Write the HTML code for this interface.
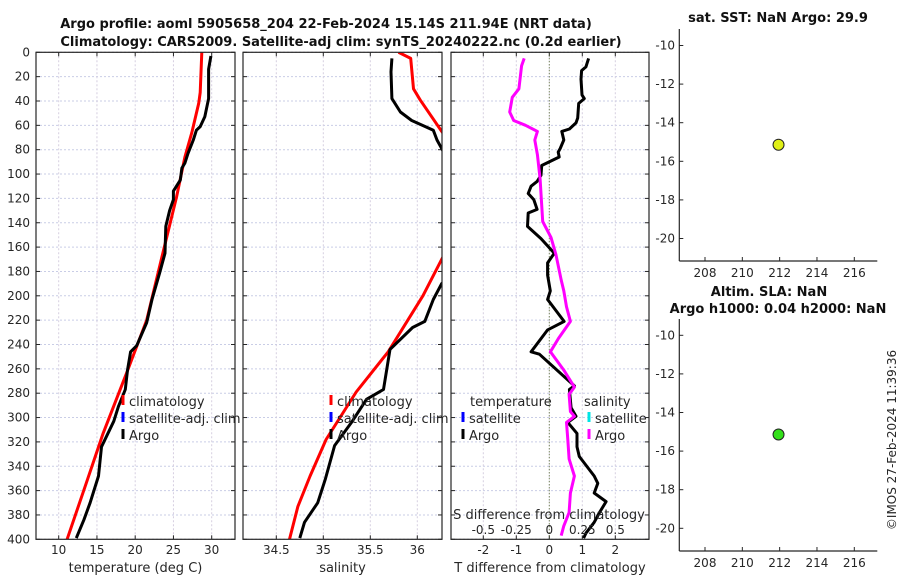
<!DOCTYPE html>
<html><head><meta charset="utf-8"><style>
html,body{margin:0;padding:0;background:#fff;}
svg{display:block;font-family:"DejaVu Sans","Liberation Sans",sans-serif;}
</style></head><body>
<svg id="fig" width="900" height="580" viewBox="0 0 900 580" xmlns="http://www.w3.org/2000/svg">
<rect width="900" height="580" fill="#fff"/>
<text x="326" y="28" text-anchor="middle" font-size="13" font-weight="bold" fill="#111">Argo profile: aoml 5905658_204 22-Feb-2024 15.14S 211.94E (NRT data)</text>
<text x="341" y="46" text-anchor="middle" font-size="13" font-weight="bold" fill="#111">Climatology: CARS2009. Satellite-adj clim: synTS_20240222.nc (0.2d earlier)</text>
<g id="layer"></g>
</svg>
<script>
// ---- data ----
const depthTicks=[0,20,40,60,80,100,120,140,160,180,200,220,240,260,280,300,320,340,360,380,400];
const tempTicks=[10,15,20,25,30];
const salTicks=[34.5,35,35.5,36];
const dTTicks=[-2,-1,0,1,2];
const dSTicks=[-0.5,-0.25,0,0.25,0.5];
const dSTickLabels=["-0.5","-0.25","0","0.25","0.5"];
const latTicks=[-10,-12,-14,-16,-18,-20];
const lonTicks=[208,210,212,214,216];

const argoTempDepth=[3,14,38,53,61,64,72,83,91,95,105,114,121,130,143,165,181,203,222,241,246,261,277,291,303,324,348,370,384,399];
const argoTemp=[29.9,29.6,29.6,29.1,28.5,28.0,27.6,26.9,26.5,26.1,25.9,25.0,25.0,24.5,24.0,23.9,23.2,22.2,21.5,20.2,19.4,19.0,18.7,17.8,17.2,15.6,15.2,14.1,13.3,12.3];
const climTempDepth=[0,33,42,66,86,119,160,220,263,313,354,400];
const climTemp=[28.7,28.5,28.3,27.4,26.5,25.4,23.8,21.5,18.9,15.8,13.6,11.1];

const argoSalDepth=[5,16,38,49,56,64,72,79,100,180,190,203,221,226,244,277,285,304,323,351,370,386,399];
const argoSal=[35.73,35.72,35.73,35.82,35.94,36.17,36.21,36.26,36.4,36.4,36.26,36.17,36.08,35.95,35.71,35.64,35.46,35.30,35.12,35.02,34.94,34.80,34.75];
const climSalDepth=[0,5,30,39,65,80,150,170,200,246,279,318,348,373,400];
const climSal=[35.80,35.93,35.96,36.03,36.26,36.4,36.4,36.26,36.06,35.69,35.35,35.03,34.86,34.73,34.64];

const dTDepth=[5,12,15,22,35,38,42,54,58,63,65,72,79,82,86,93,101,106,110,116,121,129,132,143,153,165,173,183,196,203,221,228,246,248,274,277,292,299,304,313,324,332,348,354,362,369,378,386,395,399];
const dT=[1.19,1.11,0.98,0.96,0.99,1.06,0.89,0.86,0.81,0.61,0.38,0.44,0.33,0.27,0.30,-0.23,-0.25,-0.37,-0.55,-0.64,-0.47,-0.37,-0.64,-0.66,-0.25,0.15,-0.05,-0.05,0.03,-0.05,0.45,-0.05,-0.55,-0.3,0.76,0.61,0.66,0.81,0.56,0.84,0.84,0.91,1.36,1.47,1.36,1.72,1.52,1.36,1.11,1.04];
const dSDepth=[5,11,30,37,49,56,60,65,72,84,104,139,152,166,187,196,209,221,235,246,261,275,281,295,299,304,318,334,348,362,378,389,397];
const dS=[-0.19,-0.21,-0.23,-0.28,-0.30,-0.27,-0.18,-0.09,-0.11,-0.09,-0.07,-0.05,0.013,0.05,0.09,0.11,0.13,0.16,0.07,0.008,0.11,0.19,0.15,0.16,0.19,0.13,0.14,0.15,0.19,0.16,0.15,0.11,0.09];

const floatLon=[211.94];
const floatLat=[-15.14];

// ---- helpers ----
const NS="http://www.w3.org/2000/svg";
const layer=document.getElementById('layer');
function mk(tag,attrs,parent){const e=document.createElementNS(NS,tag);for(const k in attrs)e.setAttribute(k,attrs[k]);(parent||layer).appendChild(e);return e;}
const Y0=52.3, Y1=539.3;
const yDepth=d=>Y0+d*(Y1-Y0)/400;
function lin(d0,d1,r0,r1){return v=>r0+(v-d0)*(r1-r0)/(d1-d0);}

const panels=[
 {name:'temperature-panel',x0:36,x1:235,sx:lin(10,30,58.7,211.7),ticks:tempTicks,title:'temperature (deg C)'},
 {name:'salinity-panel',x0:243,x1:442,sx:lin(34.5,36,276.3,417.3),ticks:salTicks,title:'salinity'},
 {name:'difference-panel',x0:451,x1:649,sx:lin(0,1,549.3,582.3),ticks:dTTicks,title:'T difference from climatology'}
];

panels.forEach((p,i)=>{
  const g=mk('g',{});
  
  
  const cid='clip'+i;
  const cp=mk('clipPath',{id:cid},g); mk('rect',{x:p.x0,y:Y0,width:p.x1-p.x0,height:Y1-Y0},cp);
  depthTicks.forEach(d=>{const l=mk('line',{x1:p.x0,x2:p.x1,y1:yDepth(d),y2:yDepth(d),stroke:'#c9cde6','stroke-width':1,'stroke-dasharray':'2 2'},g);
    });
  p.ticks.forEach(t=>{const x=p.sx(t);const l=mk('line',{x1:x,x2:x,y1:Y0,y2:Y1,stroke:'#d6cfe0','stroke-width':1,'stroke-dasharray':'2 2'},g);
    
    mk('line',{x1:x,x2:x,y1:Y1,y2:Y1-4,stroke:'#262626'},g);mk('line',{x1:x,x2:x,y1:Y0,y2:Y0+4,stroke:'#262626'},g);
    const tx=mk('text',{x:x,y:554,'text-anchor':'middle','font-size':12,fill:'#262626'},g);tx.textContent=t;
    });
  depthTicks.forEach(d=>{const y=yDepth(d);mk('line',{x1:p.x0,x2:p.x0+4,y1:y,y2:y,stroke:'#262626'},g);mk('line',{x1:p.x1,x2:p.x1-4,y1:y,y2:y,stroke:'#262626'},g);
    if(i===0){const tx=mk('text',{x:30,y:y+4,'text-anchor':'end','font-size':12,fill:'#262626'},g);tx.textContent=d;
      }});
  const at=mk('text',{x:(p.x0+p.x1)/2,y:572,'text-anchor':'middle','font-size':13,fill:'#262626'},g);at.textContent=p.title;
  
  p.g=g;p.clip=cid;
});

function series(p,depths,vals,color,name,scale){
  const pts=depths.map((d,k)=>p.sx(vals[k]*(scale||1)).toFixed(1)+','+yDepth(d).toFixed(1)).join(' ');
  const pl=mk('polyline',{points:pts,fill:'none',stroke:color,'stroke-width':3,'stroke-linejoin':'round','clip-path':'url(#'+p.clip+')'},p.g);
  
  
}
const zl=mk('line',{x1:549.3,x2:549.3,y1:Y0,y2:Y1,stroke:'#556b2f','stroke-width':1,'stroke-dasharray':'1 2'},panels[2].g);



series(panels[0],climTempDepth,climTemp,'#ff0000','climatology-temp-line');
series(panels[0],argoTempDepth,argoTemp,'#000','argo-temp-line');
series(panels[1],climSalDepth,climSal,'#ff0000','climatology-sal-line');
series(panels[1],argoSalDepth,argoSal,'#000','argo-sal-line');
series(panels[2],dTDepth,dT,'#000','argo-temp-diff-line');
series(panels[2],dSDepth,dS,'#ff00ff','argo-sal-diff-line',4);

panels.forEach(p=>{const b=mk('rect',{x:p.x0,y:Y0,width:p.x1-p.x0,height:Y1-Y0,fill:'none',stroke:'#262626','stroke-width':1.2},p.g);
  });

const sdt=mk('text',{x:549,y:519,'text-anchor':'middle','font-size':13,fill:'#262626'});sdt.textContent='S difference from climatology';


dSTicks.forEach((t,k)=>{const tx=mk('text',{x:panels[2].sx(t*4),y:534,'text-anchor':'middle','font-size':12,fill:'#262626'});tx.textContent=dSTickLabels[k];
  
  });

function legItem(x,y,color,label,name){
  const g=mk('g',{});
  
  
  if(color) mk('line',{x1:x,x2:x,y1:y-10,y2:y,stroke:color,'stroke-width':3},g);
  const t=mk('text',{x:x+6,y:y+1,'font-size':13,fill:'#262626'},g);t.textContent=label;
}
legItem(123,405,'#ff0000','climatology','legend-climatology');
legItem(123,422,'#0000ff','satellite-adj. clim','legend-satellite-adj');
legItem(123,439,'#000','Argo','legend-argo');
legItem(331,405,'#ff0000','climatology','legend-climatology-2');
legItem(331,422,'#0000ff','satellite-adj. clim','legend-satellite-adj-2');
legItem(331,439,'#000','Argo','legend-argo-2');
legItem(464,405,null,'temperature','legend-temperature-header');
legItem(463,422,'#0000ff','satellite','legend-temp-satellite');
legItem(463,439,'#000','Argo','legend-temp-argo');
legItem(578,405,null,'salinity','legend-salinity-header');
legItem(589,422,'#00e5e5','satellite','legend-sal-satellite');
legItem(589,439,'#ff00ff','Argo','legend-sal-argo');

const sLon=lin(208,216,705,854.3);
function mapPanel(top,lat10,bottom,dotColor,name){
  const g=mk('g',{});
  
  
  const sLat=lin(-10,-20,lat10,lat10+193);
  mk('line',{x1:679.3,x2:679.3,y1:top,y2:bottom,stroke:'#262626','stroke-width':1.2},g);
  mk('line',{x1:679.3,x2:877.3,y1:bottom,y2:bottom,stroke:'#262626','stroke-width':1.2},g);
  latTicks.forEach(t=>{const y=sLat(t);mk('line',{x1:679.3,x2:683.3,y1:y,y2:y,stroke:'#262626'},g);
    const tx=mk('text',{x:675,y:y+4,'text-anchor':'end','font-size':12,fill:'#262626'},g);tx.textContent=t;
    });
  lonTicks.forEach(t=>{const x=sLon(t);mk('line',{x1:x,x2:x,y1:bottom,y2:bottom-4,stroke:'#262626'},g);
    const tx=mk('text',{x:x,y:bottom+16,'text-anchor':'middle','font-size':12,fill:'#262626'},g);tx.textContent=t;
    });
  floatLon.forEach((lo,k)=>{const c=mk('circle',{cx:sLon(lo),cy:sLat(floatLat[k]),r:5.5,fill:dotColor,stroke:'#222','stroke-width':1},g);
    });
}
mapPanel(29,45.5,261,'#e0f016','sst-map');
mapPanel(319,335.3,551,'#33e01a','sla-map');
function txt(x,y,s,name,extra){const t=mk('text',Object.assign({x:x,y:y,'text-anchor':'middle','font-size':13,'font-weight':'bold',fill:'#111'},extra||{}));t.textContent=s;
  return t;}
txt(778,22,'sat. SST: NaN Argo: 29.9','sst-title');
txt(769,296,'Altim. SLA: NaN','sla-title');
txt(778,313,'Argo h1000: 0.04 h2000: NaN','argo-height-title');
const cr=mk('text',{x:0,y:0,'text-anchor':'middle','font-size':12,fill:'#262626',transform:'translate(896,440) rotate(-90)'});
cr.textContent='©IMOS 27-Feb-2024 11:39:36';


</script>
</body></html>
